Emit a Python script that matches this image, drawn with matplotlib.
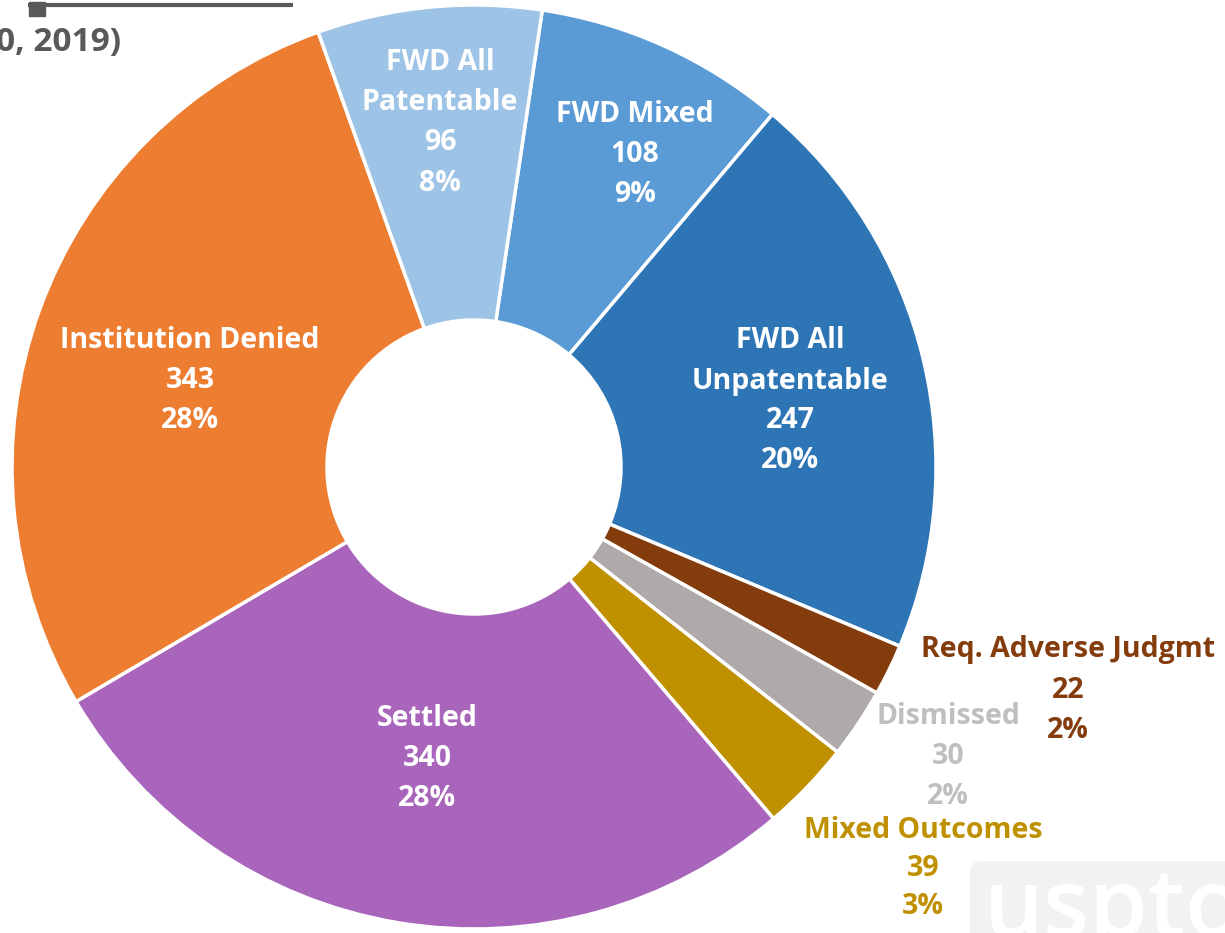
import matplotlib.pyplot as plt
from matplotlib.patches import FancyBboxPatch, Rectangle

# Resultados de las peticiones (orden horario desde arriba)
nombres = ['FWD Mixed', 'FWD All\nUnpatentable', 'Req. Adverse Judgmt', 'Dismissed',
           'Mixed Outcomes', 'Settled', 'Institution Denied', 'FWD All\nPatentable']
valores = [108, 247, 22, 30, 39, 340, 343, 96]
colores = ['#5B9BD5', '#2E75B6', '#843C0C', '#AEAAAA', '#BF9000', '#A865BB', '#ED7D31', '#9DC3E6']
color_texto = ['white', 'white', '#843C0C', '#BFBFBF', '#BF9000', 'white', 'white', 'white']

# posiciones de etiquetas en pixeles (x, y de la primera linea desde arriba, paso entre lineas)
pos_etiquetas = [(635, 114, 40), (790, 341, 40), (1068, 650, 40), (948, 716, 40),
                 (923, 831, 37.5), (427, 718, 40), (190, 341, 40), (440, 62, 40.5)]

W, H = 1225, 933
fig = plt.figure(figsize=(W / 100, H / 100), dpi=100)
ax = fig.add_axes([0, 0, 1, 1])
ax.axis('off')

plt.rcParams['font.family'] = ['Open Sans', 'DejaVu Sans']

cx, cy, r, r_in = 474, H - 467, 462, 147
ax.pie(valores, colors=colores, center=(cx, cy), radius=r, startangle=81.5,
       counterclock=False, wedgeprops=dict(width=r - r_in, edgecolor='white', linewidth=2.5))
ax.set_xlim(0, W)
ax.set_ylim(0, H)
ax.set_aspect('equal')

total = sum(valores)
for nombre, v, c, (x, y, paso) in zip(nombres, valores, color_texto, pos_etiquetas):
    pct = round(v / total * 100)
    lineas = nombre.split('\n') + [str(v), f'{pct}%']
    for i, linea in enumerate(lineas):
        ax.text(x, H - (y + i * paso), linea, ha='center', va='center', color=c,
                fontsize=20.5, fontweight='bold')

# restos del titulo y linea (recortados)
ax.plot([28, 293], [H - 5, H - 5], color='#595959', lw=3, solid_capstyle='butt')
ax.add_patch(Rectangle((29, H - 16), 16, 14, color='#595959'))
ax.text(121, H - 42, '0, 2019)', ha='right', va='center', color='#595959',
        fontsize=24, fontweight='bold')

# marca de agua
ax.add_patch(FancyBboxPatch((970, -30), 300, H - 861 + 30, boxstyle='round,pad=0,rounding_size=12',
                            facecolor='#F2F2F2', edgecolor='none'))
ax.text(984, -3, 'uspto', ha='left', va='baseline', color='white', fontsize=68,
        fontweight='semibold')

fig.savefig('out.png', dpi=100)
